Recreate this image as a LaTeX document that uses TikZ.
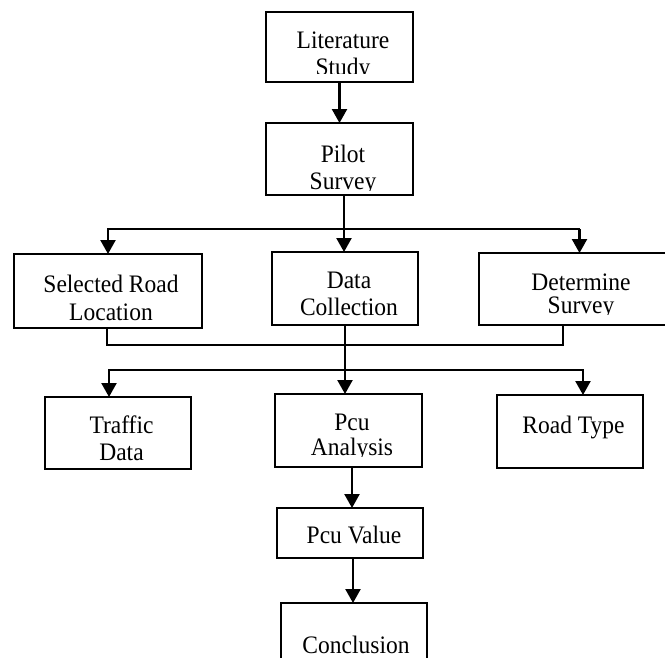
\documentclass[tikz,border=0pt]{standalone}
\usepackage{fontspec}
\setmainfont{Liberation Serif}
\usetikzlibrary{arrows.meta}
\tikzset{
  boxshape/.style={draw, line width=1.1pt, inner sep=0pt, outer sep=0pt},
  txt/.style={inner sep=0pt, outer sep=0pt, anchor=base},
  arr/.style={line width=2.3pt, -{Triangle[width=15pt,length=14pt]}},
  hl/.style={line width=1.5pt, line cap=rect},
  ml/.style={line width=1.1pt},
}
% \mybox{name}{x1}{y1}{x2}{y2}
\newcommand\mybox[5]{%
  \node[boxshape, minimum width={(#4-#2)*1pt}, minimum height={(#5-#3)*1pt}]
    (#1) at ({(#2+#4)/2},{-(#3+#5)/2}) {};}
% \mytext{name}{x}{baseline y}{line skip}{clip y}{text}
\newcommand\mytext[6]{%
  \coordinate (#1c) at (0,-#5);
  \begin{scope}
    \clip (#1.north west) rectangle (#1.east |- #1c);
    \node[txt] (#1t) at (#2,-#3)
      {\fontsize{23.5}{#4}\selectfont\scalebox{1}[1.07]{\begin{tabular}[t]{@{}c@{}}#6\end{tabular}}};
  \end{scope}}
\begin{document}
\begin{tikzpicture}[x=1pt,y=1pt]
\useasboundingbox (0,0) rectangle (665,-657);
\clip (0,0) rectangle (665,-657);
% boxes
\mybox{lit}{266}{12}{413}{82}
\mybox{pilot}{266}{123}{413}{195}
\mybox{sel}{14}{254}{202}{328}
\mybox{data}{272}{252}{418}{325}
\mybox{det}{479}{253}{680}{325}
\mybox{traf}{45}{397}{191}{469}
\mybox{pcua}{275}{394}{422}{467}
\mybox{road}{497}{395}{643}{468}
\mybox{pcuv}{277}{508}{423}{558}
\mybox{conc}{281}{603}{427}{680}
% texts
\mytext{lit}{343}{48}{25.5}{73}{Literature\\Study}
\mytext{pilot}{343}{162}{25.5}{190}{Pilot\\Survey}
\mytext{sel}{111}{292}{26.2}{340}{Selected Road\\Location}
\mytext{data}{349}{288}{25.5}{340}{Data\\Collection}
\mytext{det}{581}{290}{21.5}{314}{Determine\\Survey}
\mytext{traf}{121.5}{433}{25.5}{480}{Traffic\\Data}
\mytext{pcua}{352}{430}{23.5}{456}{Pcu\\Analysis}
\mytext{road}{573.5}{433}{25.5}{480}{Road Type}
\mytext{pcuv}{354}{543}{25.5}{570}{Pcu Value}
\mytext{conc}{356}{653}{25.5}{700}{Conclusion}
% connectors
\draw[arr] (lit.south) -- (pilot.north);
\coordinate (j1) at (344,-229);
\draw[hl] (sel.north |- j1) -- (det.north |- j1);
\draw[arr] (pilot.south -| j1) -- (data.north -| j1);
\draw[arr] (sel.north |- j1) -- (sel.north);
\draw[arr] (det.north |- j1) -- (det.north);
\coordinate (m1) at (107,-345);
\coordinate (m2) at (563,-345);
\draw[ml] (sel.south -| m1) -- (m1) -- (m2) -- (det.south -| m2);
\coordinate (b1) at (109,-370);
\coordinate (b2) at (583,-370);
\draw[hl] (b1) -- (b2);
\draw[arr] (data.south) -- (data.south |- pcua.north);
\draw[arr] (b1) -- (traf.north -| b1);
\draw[arr] (b2) -- (road.north -| b2);
\coordinate (c1) at (352,0);
\draw[arr] (pcua.south -| c1) -- (pcuv.north -| c1);
\coordinate (c2) at (353,0);
\draw[arr] (pcuv.south -| c2) -- (conc.north -| c2);
\end{tikzpicture}
\end{document}
